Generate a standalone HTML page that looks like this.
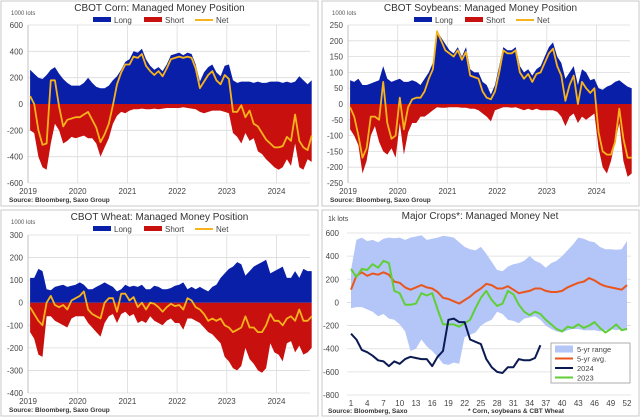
<!DOCTYPE html>
<html><head><meta charset="utf-8">
<style>
html,body{margin:0;padding:0;background:#fff;}
svg{display:block;font-family:"Liberation Sans",sans-serif;}
</style></head>
<body>
<svg id="c" width="640" height="418" viewBox="0 0 640 418" xmlns="http://www.w3.org/2000/svg"></svg>
<script>
// ---------- data (monthly, Jan 2019 .. Sep 2024) ----------
const years = ["2019","2020","2021","2022","2023","2024"];
const cornLong = [260,230,200,190,220,260,280,230,190,160,140,140, 140,160,200,160,130,120,120,140,180,210,260,320, 340,400,390,420,340,290,260,280,250,300,370,380, 390,370,390,380,300,170,240,280,300,240,210,290, 300,180,160,170,170,170,160,170,160,160,170,170, 170,160,170,160,170,210,180,150,180];
const cornShort = [-200,-220,-400,-480,-500,-300,-150,-200,-300,-280,-250,-260, -250,-240,-260,-260,-300,-400,-330,-260,-150,-90,-60,-70, -50,-40,-40,-35,-40,-40,-35,-40,-35,-30,-30,-30, -30,-25,-30,-35,-40,-60,-70,-60,-50,-50,-50,-60, -70,-220,-250,-300,-220,-280,-260,-360,-380,-420,-450,-480, -500,-480,-420,-470,-300,-480,-500,-420,-440];
const cornNet = [60,0,-200,-310,-300,180,180,-20,-170,-120,-110,-100, -100,-80,-60,-120,-180,-290,-230,-150,-10,150,240,300, 300,360,350,380,290,250,220,250,210,270,340,350, 360,350,360,350,270,120,170,220,250,180,150,220, 190,-60,-60,-10,-100,-50,-150,-170,-220,-270,-300,-330, -330,-320,-250,-280,-80,-280,-330,-350,-240];
const soyLong = [75,70,80,60,60,65,70,75,120,80,70,75, 80,70,70,75,70,60,80,100,130,230,210,190, 170,160,180,150,180,110,100,100,70,60,30,60, 120,180,170,170,180,120,100,110,90,110,120,150, 180,195,150,130,80,100,120,60,110,100,75,80, 50,45,55,60,70,75,65,55,50];
const soyShort = [-80,-100,-130,-220,-180,-100,-70,-120,-150,-160,-140,-170, -60,-160,-90,-60,-60,-40,-40,-30,-20,-10,-12,-12, -10,-10,-10,-12,-12,-15,-15,-20,-30,-40,-55,-20, -15,-10,-10,-12,-10,-15,-20,-15,-20,-15,-20,-20, -20,-20,-25,-40,-70,-40,-30,-60,-40,-50,-40,-30, -140,-200,-220,-180,-120,-60,-180,-230,-220];
const soyNet = [-10,-40,-100,-170,-140,-40,-40,-50,70,-60,-110,-100, 20,-80,-10,15,20,20,40,80,110,230,200,170, 160,150,170,140,165,90,85,80,40,20,15,40, 100,170,160,160,170,100,80,95,70,95,100,130, 160,175,120,90,10,60,90,0,70,50,35,50, -90,-150,-160,-160,-120,-15,-110,-170,-170];
const wheatLong = [110,110,150,140,60,55,70,75,80,70,75,80, 90,80,60,60,70,80,90,80,70,50,60,80, 70,75,70,80,60,60,75,70,60,60,65,75, 80,90,60,70,60,70,60,50,70,80,110,130, 150,160,180,170,120,140,160,170,180,190,130,140, 150,160,110,110,140,110,150,140,140];
const wheatShort = [-130,-160,-230,-240,-60,-60,-80,-90,-100,-110,-70,-60, -60,-60,-90,-110,-130,-150,-90,-60,-50,-90,-50,-40, -60,-50,-90,-80,-90,-60,-80,-90,-100,-80,-70,-90, -90,-120,-70,-70,-80,-90,-110,-130,-140,-160,-180,-240, -260,-290,-300,-280,-200,-250,-270,-300,-310,-290,-180,-220, -230,-260,-180,-170,-220,-190,-230,-220,-200];
const wheatNet = [-20,-50,-80,-100,0,30,-10,-20,-10,-30,10,20, 30,50,-30,-50,-60,-70,0,20,20,-40,40,40, 10,25,-20,0,-30,0,-5,-20,-40,-20,-5,-15, -10,-30,20,10,-20,-30,-50,-80,-70,-80,-70,-100, -110,-130,-120,-110,-60,-110,-110,-130,-130,-100,-50,-80, -80,-100,-70,-60,-80,-30,-80,-80,-60];
// Major crops weekly
const weekTicks = [1,4,7,10,13,16,19,22,25,28,31,34,37,40,43,46,49,52];
const rangeHigh = [280,540,560,530,540,520,550,560,555,560,540,560,570,580,540,550,560,575,570,560,520,480,460,450,480,420,350,280,270,310,330,340,360,400,360,340,300,340,360,400,450,500,560,550,530,520,480,460,460,455,460,530];
const rangeLow = [-50,-40,-40,-60,-80,-120,-100,-140,-150,-190,-250,-420,-400,-320,-380,-420,-470,-530,-540,-520,-530,-300,-280,-260,-200,-170,-150,-80,-100,-150,-160,-180,-140,-130,-120,-150,-200,-230,-250,-260,-240,-230,-230,-240,-240,-240,-250,-240,-230,-240,-230,-230];
const avg5 = [110,230,260,230,250,240,260,240,180,170,130,110,130,150,130,120,90,40,30,10,-10,20,50,90,120,160,150,120,120,140,110,80,90,100,120,120,100,90,90,100,130,150,170,180,210,190,160,140,130,120,110,150];
const net2023 = [290,220,290,280,330,300,360,340,100,80,-20,-20,-10,80,60,80,-60,-190,-190,-190,-210,-180,-150,-50,40,100,20,-30,-10,100,70,-20,-80,-110,-80,-100,-150,-190,-230,-250,-210,-220,-190,-220,-200,-170,-220,-260,-230,-190,-240,-230];
const net2024 = [-270,-320,-410,-430,-460,-500,-510,-550,-510,-530,-490,-470,-480,-490,-490,-550,-470,-420,-150,-140,-170,-170,-320,-340,-360,-490,-560,-600,-610,-560,-560,-490,-500,-500,-480,-370];
const cornTicks = [600,400,200,0,-200,-400,-600];
const soyTicks = [250,200,150,100,50,0,-50,-100,-150,-200,-250];
const wheatTicks = [300,200,100,0,-100,-200,-300,-400];
const cropTicks = [600,400,200,0,-200,-400,-600,-800];

const NS="http://www.w3.org/2000/svg";
const svg=document.getElementById('c');
function mk(tag,attrs,parent){const e=document.createElementNS(NS,tag);for(const k in attrs)e.setAttribute(k,attrs[k]);(parent||svg).appendChild(e);return e;}
function txt(x,y,s,size,anchor,parent,extra){const t=mk('text',Object.assign({x:x,y:y,'font-size':size,'text-anchor':anchor||'start',fill:'#333'},extra||{}),parent);t.textContent=s;return t;}

function legendTop(g,cx,y){
  const items=[["Long","#0a1fa8","rect"],["Short","#c8100e","rect"],["Net","#f6b31c","line"]];
  let x=cx;
  items.forEach((it,i)=>{
    const lg=mk('g',{},g);
    
    
    if(it[2]=="rect") mk('rect',{x:x,y:y-3,width:18,height:5,fill:it[1]},lg);
    else mk('line',{x1:x,y1:y,x2:x+18,y2:y,stroke:it[1],'stroke-width':2},lg);
    txt(x+21,y+3,it[0],8,'start',lg,{fill:'#444'});
    x+= 51;
  });
}

function posPanel(cfg){
  const g=mk('g',{});
  
  
  mk('rect',{x:cfg.bx,y:cfg.by,width:cfg.bw,height:cfg.bh,fill:'#fff',stroke:'#c8c8c8','stroke-width':1},g);
  const x0=cfg.x0,x1=cfg.x1,y0=cfg.y0,y1=cfg.y1;
  const vmax=cfg.ticks[0],vmin=cfg.ticks[cfg.ticks.length-1];
  const Y=v=>y0+(vmax-v)/(vmax-vmin)*(y1-y0);
  const pxYear=cfg.pxYear;
  const X=i=>x0+(i+0.5)/12*pxYear;
  // grid
  cfg.ticks.forEach(t=>{
    const l=mk('line',{x1:x0,x2:x1,y1:Y(t),y2:Y(t),stroke:'#dcdcdc','stroke-width':0.8},g);
    
    
    const tl=txt(x0-5,Y(t)+3,String(t),8,'end',g,{fill:'#444'});
    
    
  });
  years.forEach((yr,k)=>{
    const xx=x0+k*pxYear;
    mk('line',{x1:xx,x2:xx,y1:y0,y2:y1,stroke:'#dcdcdc','stroke-width':0.8},g);
    const tl=txt(xx,y1+11,yr,8,'middle',g,{fill:'#444'});
    
    
  });
  const n=cfg.long.length;
  function area(arr,col,name){
    let d='M'+X(0)+','+Y(0);
    arr.forEach((v,i)=>{d+=' L'+X(i).toFixed(1)+','+Y(v).toFixed(1);});
    d+=' L'+X(n-1)+','+Y(0)+' Z';
    const p=mk('path',{d:d,fill:col},g);
    
    
  }
  area(cfg.long,'#0a1fa8','long-area');
  area(cfg.short,'#c8100e','short-area');
  let d='';
  cfg.net.forEach((v,i)=>{d+=(i?' L':'M')+X(i).toFixed(1)+','+Y(v).toFixed(1);});
  const nl=mk('path',{d:d,fill:'none',stroke:'#f6b31c','stroke-width':1.8,'stroke-linejoin':'round'},g);
  
  
  mk('line',{x1:x0,x2:x0,y1:y0,y2:y1,stroke:'#bbb','stroke-width':0.8},g);
  const tt=txt(cfg.bx+cfg.bw/2,cfg.by+10,cfg.title,10,'middle',g,{fill:'#333'});
  
  
  const ut=txt(cfg.bx+10,cfg.by+14,'1000 lots',6,'start',g,{fill:'#555'});
  
  
  legendTop(g,cfg.bx+92,cfg.by+19);
  const st=txt(cfg.bx+8,cfg.by+cfg.bh-4,'Source: Bloomberg, Saxo Group',6.5,'start',g,{fill:'#333','font-weight':'bold'});
  
  
}

posPanel({name:'corn-panel',title:'CBOT  Corn: Managed Money Position',bx:1,by:1,bw:317,bh:205,x0:28,x1:310,y0:25,y1:183,pxYear:49.7,ticks:cornTicks,long:cornLong,short:cornShort,net:cornNet});
posPanel({name:'soybeans-panel',title:'CBOT  Soybeans: Managed Money Position',bx:322,by:1,bw:317,bh:205,x0:348,x1:630,y0:25,y1:183,pxYear:49.7,ticks:soyTicks,long:soyLong,short:soyShort,net:soyNet});
posPanel({name:'wheat-panel',title:'CBOT  Wheat: Managed Money Position',bx:1,by:210,bw:317,bh:206,x0:28,x1:310,y0:235,y1:393,pxYear:49.7,ticks:wheatTicks,long:wheatLong,short:wheatShort,net:wheatNet});

// ---- Major crops panel ----
(function(){
  const g=mk('g',{});
  
  
  mk('rect',{x:322,y:210,width:317,height:206,fill:'#fff',stroke:'#c8c8c8','stroke-width':1},g);
  const x0=351,x1=627,y0=233,y1=395;
  const vmax=600,vmin=-800;
  const Y=v=>y0+(vmax-v)/(vmax-vmin)*(y1-y0);
  const X=w=>x0+(w-1)/51*(x1-x0);
  cropTicks.forEach(t=>{
    mk('line',{x1:x0-4,x2:x1+4,y1:Y(t),y2:Y(t),stroke:'#dcdcdc','stroke-width':0.8},g);
    const tl=txt(x0-12,Y(t)+3,String(t),8,'end',g,{fill:'#444'});
    
    
  });
  weekTicks.forEach(w=>{
    const tl=txt(X(w),y1+11,String(w),8,'middle',g,{fill:'#444'});
    
    
  });
  let d='';
  rangeHigh.forEach((v,i)=>{d+=(i?' L':'M')+X(i+1).toFixed(1)+','+Y(v).toFixed(1);});
  for(let i=rangeLow.length-1;i>=0;i--) d+=' L'+X(i+1).toFixed(1)+','+Y(rangeLow[i]).toFixed(1);
  d+=' Z';
  const ra=mk('path',{d:d,fill:'#b4c6f7'},g);
  
  
  function line(arr,col,name){
    let dd='';
    arr.forEach((v,i)=>{dd+=(i?' L':'M')+X(i+1).toFixed(1)+','+Y(v).toFixed(1);});
    const p=mk('path',{d:dd,fill:'none',stroke:col,'stroke-width':2,'stroke-linejoin':'round'},g);
    
    
  }
  line(avg5,'#e8561e','five-year-avg-line');
  line(net2023,'#5fcf35','line-2023');
  line(net2024,'#0b1a52','line-2024');
  const tt=txt(480,219,'Major Crops*: Managed Money Net',10,'middle',g,{fill:'#333'});
  
  
  const ut=txt(328,221,'1k lots',7,'start',g,{fill:'#444'});
  
  
  // legend
  const lg=mk('g',{},g);
  
  
  mk('rect',{x:551,y:343,width:79,height:40,fill:'#fff',stroke:'#999','stroke-width':0.8},lg);
  const items=[["5-yr range","#b4c6f7","rect"],["5-yr avg.","#e8561e","line"],["2024","#0b1a52","line"],["2023","#5fcf35","line"]];
  items.forEach((it,i)=>{
    const yy=349+i*9.5;
    const e=mk('g',{},lg);
    
    
    if(it[2]=="rect") mk('rect',{x:555,y:yy-3.5,width:18,height:7,fill:it[1]},e);
    else mk('line',{x1:555,x2:573,y1:yy,y2:yy,stroke:it[1],'stroke-width':2},e);
    txt(577,yy+3,it[0],7.5,'start',e,{fill:'#444'});
  });
  const st=txt(328,413,'Source: Bloomberg, Saxo',6.5,'start',g,{fill:'#333','font-weight':'bold'});
  
  
  const fn=txt(468,413,'* Corn, soybeans & CBT Wheat',6.5,'start',g,{fill:'#333','font-weight':'bold'});
  
  
})();
</script>
</body></html>
